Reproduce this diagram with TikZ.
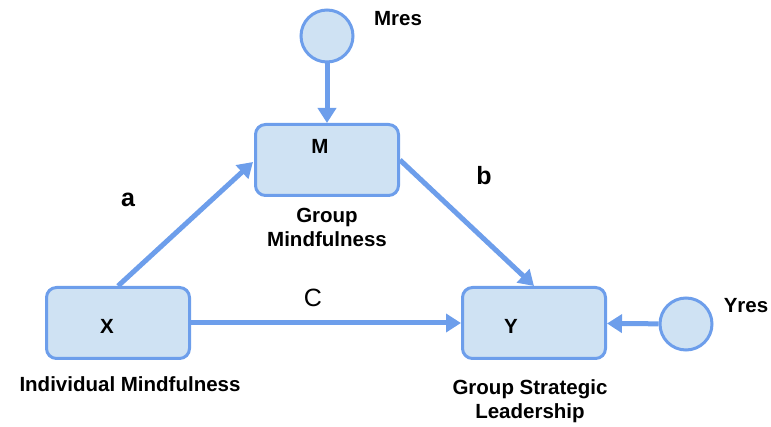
\documentclass[tikz,border=0pt]{standalone}
\usepackage{fontspec}
\setmainfont{Liberation Sans}
\usetikzlibrary{positioning,arrows.meta}
\definecolor{boxfill}{RGB}{207,226,243}
\definecolor{boxline}{RGB}{109,158,235}

\begin{document}
\begin{tikzpicture}[x=1pt,y=-1pt,
  vbox/.style={draw=boxline,fill=boxfill,line width=3pt,rounded corners=10pt,
    minimum width=143pt,minimum height=71pt},
  resnode/.style={draw=boxline,fill=boxfill,line width=3pt,circle,minimum size=52pt},
  lbl/.style={font=\bfseries\fontsize{20.5}{24}\selectfont,align=center},
  path/.style={draw=boxline,line width=5pt,-{Triangle[length=15pt,width=18pt]}},
  coef/.style={font=\bfseries\fontsize{25}{25}\selectfont}]

  \useasboundingbox (0,0) rectangle (771,427);

  % the three variables
  \node[vbox] (xbox) at (118,323) {};
  \node[vbox] (mbox) at (327,160) {};
  \node[vbox] (ybox) at (534,323) {};

  \node[lbl] (xtxt) at (107,326) {X};
  \node[lbl] (mtxt) at (320,146) {M};
  \node[lbl] (ytxt) at (511,326) {Y};

  \node[lbl,below=13pt of xbox.south,xshift=12pt] (xname) {Individual Mindfulness};
  \node[lbl,below=8pt of mbox.south] (mname) {Group\\Mindfulness};
  \node[lbl,below=16pt of ybox.south,xshift=-4pt] (yname) {Group Strategic\\Leadership};

  % residuals
  \node[resnode] (mres) at (327,36) {};
  \node[resnode] (yres) at (686,324) {};
  \node[lbl] (mreslbl) at (398,19) {Mres};
  \node[lbl] (yreslbl) at (746,306) {Yres};

  % paths
  \draw[path] (xbox.north) -- (253,162);
  \draw[path] (mbox.east) -- (ybox.north);
  \draw[path] (xbox.east) -- (ybox.west);
  \draw[path] (mres) -- (mbox);
  \draw[path] (yres) -- (ybox);

  \node[coef] (acoef) at (128,200) {a};
  \node[coef] (bcoef) at (484,176) {b};
  \node[font=\fontsize{25}{25}\selectfont] (ccoef) at (313,298) {C};
\end{tikzpicture}
\end{document}
